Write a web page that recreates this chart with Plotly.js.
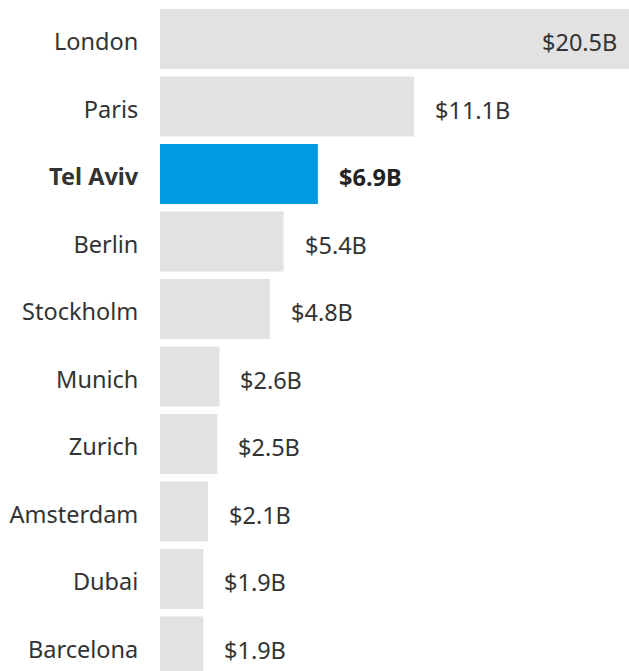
<!DOCTYPE html>
<html>
<head>
<meta charset="utf-8">
<script src="https://cdn.plot.ly/plotly-3.0.1.min.js"></script>
<style>html,body{margin:0;padding:0;background:#fff;}#chart{width:629px;height:671px;}</style>
</head>
<body>
<div id="chart"></div>
<script>
const cities = ["London","Paris","Tel Aviv","Berlin","Stockholm","Munich","Zurich","Amsterdam","Dubai","Barcelona"];
const funding = [20.5, 11.1, 6.9, 5.4, 4.8, 2.6, 2.5, 2.1, 1.9, 1.9];
const valueLabels = ["$20.5B","$11.1B","$6.9B","$5.4B","$4.8B","$2.6B","$2.5B","$2.1B","$1.9B","$1.9B"];
const highlight = "Tel Aviv";

const FONT = "'Source Sans Pro', 'Noto Sans', sans-serif";
const maxVal = Math.max(...funding);

const colors = cities.map(c => c === highlight ? "#0199e0" : "#e2e2e2");
const tickText = cities.map(c => c === highlight ? "<b>" + c + "</b>" : c);

const annotations = cities.map((c, i) => {
  const inside = funding[i] === maxVal;
  const bold = c === highlight;
  return {
    x: funding[i], y: c, xref: "x", yref: "y",
    text: bold ? "<b>" + valueLabels[i] + "</b>" : valueLabels[i],
    showarrow: false,
    xanchor: inside ? "right" : "left",
    xshift: inside ? -10 : 19,
    yshift: -3,
    font: {family: FONT, size: 23.5, color: bold ? "#222" : "#333"}
  };
});

const trace = {
  type: "bar", orientation: "h",
  x: funding, y: cities,
  marker: {color: colors},
  hoverinfo: "skip"
};

const n = cities.length;
const layout = {
  width: 629, height: 671,
  margin: {l: 160, r: 0, t: 0, b: 0, pad: 0},
  paper_bgcolor: "#fff", plot_bgcolor: "#fff",
  bargap: 0.111,
  showlegend: false,
  xaxis: {range: [0, maxVal], showgrid: false, zeroline: false, showticklabels: false, showline: false, fixedrange: true},
  yaxis: {
    type: "category",
    range: [n - 1 + 0.363, -0.578],
    tickmode: "array", tickvals: cities, ticktext: tickText,
    ticks: "outside", ticklen: 16, tickcolor: "rgba(0,0,0,0)",
    ticklabelshift: -3,
    showgrid: false, zeroline: false, showline: false,
    tickfont: {family: FONT, size: 23.5, color: "#333"},
    fixedrange: true
  },
  annotations: annotations,
  font: {family: FONT}
};

Plotly.newPlot("chart", [trace], layout, {displayModeBar: false, staticPlot: true});
</script>
</body>
</html>
